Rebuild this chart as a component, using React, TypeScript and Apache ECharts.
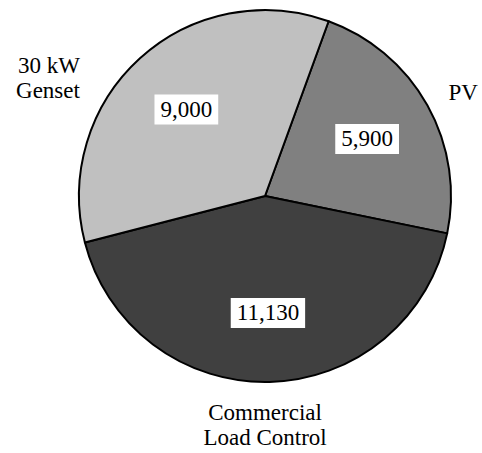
import React, { useEffect, useRef } from "react";
import * as echarts from "echarts";

const categories = ["PV", "Commercial\nLoad Control", "30 kW\nGenset"];
const values = [5900, 11130, 9000];
const colors = ["#808080", "#404040", "#c0c0c0"];

const FONT = "'Liberation Serif', 'Times New Roman', serif";

export default function App() {
  const ref = useRef<HTMLDivElement>(null);
  useEffect(() => {
    if (!ref.current) return;
    const chart = echarts.init(ref.current, null, { renderer: "svg" });
    const data = categories.map((c, i) => ({ name: c, value: values[i] }));
    const center = [265, 196];
    const nameOffsets = [
      { dx: 3, dy: -5, align: "left" },
      { dx: -10, dy: 28, align: "center" },
      { dx: -45, dy: 31, align: "right" },
    ];
    chart.setOption({
      animation: false,
      series: [
        {
          type: "pie",
          center,
          radius: [0, 186],
          startAngle: 70,
          clockwise: true,
          silent: true,
          data: data.map((d, i) => ({ ...d, itemStyle: { color: colors[i] } })),
          itemStyle: { borderColor: "#000", borderWidth: 2 },
          label: { show: false },
          labelLine: { show: false },
        },
        {
          type: "pie",
          center,
          radius: [0, 228],
          startAngle: 70,
          clockwise: true,
          silent: true,
          z: 3,
          data: data.map((d) => ({ ...d, itemStyle: { color: "rgba(0,0,0,0)" } })),
          itemStyle: { borderWidth: 0 },
          label: {
            show: true,
            position: "inner",
            formatter: (p: any) => p.value.toLocaleString("en-US"),
            fontFamily: FONT,
            fontSize: 23,
            color: "#000",
            backgroundColor: "#fff",
            padding: [4, 6, 3, 6],
          },
          labelLine: { show: false },
        },
        {
          type: "pie",
          center,
          radius: [0, 186],
          startAngle: 70,
          clockwise: true,
          silent: true,
          z: 3,
          data: data.map((d) => ({ ...d, itemStyle: { color: "rgba(0,0,0,0)" } })),
          itemStyle: { borderWidth: 0 },
          label: {
            show: true,
            position: "outside",
            alignTo: "none",
            overflow: "none",
            formatter: "{b}",
            fontFamily: FONT,
            fontSize: 23,
            lineHeight: 25,
            color: "#000",
          },
          labelLine: { show: false, length: 15, length2: 0 },
          labelLayout: (p: any) => nameOffsets[p.dataIndex],
        },
      ],
    });
    return () => chart.dispose();
  }, []);
  return (
    <div
      ref={ref}
      style={{ position: "fixed", left: 0, top: 0, width: 482, height: 453, background: "#fff" }}
    />
  );
}
